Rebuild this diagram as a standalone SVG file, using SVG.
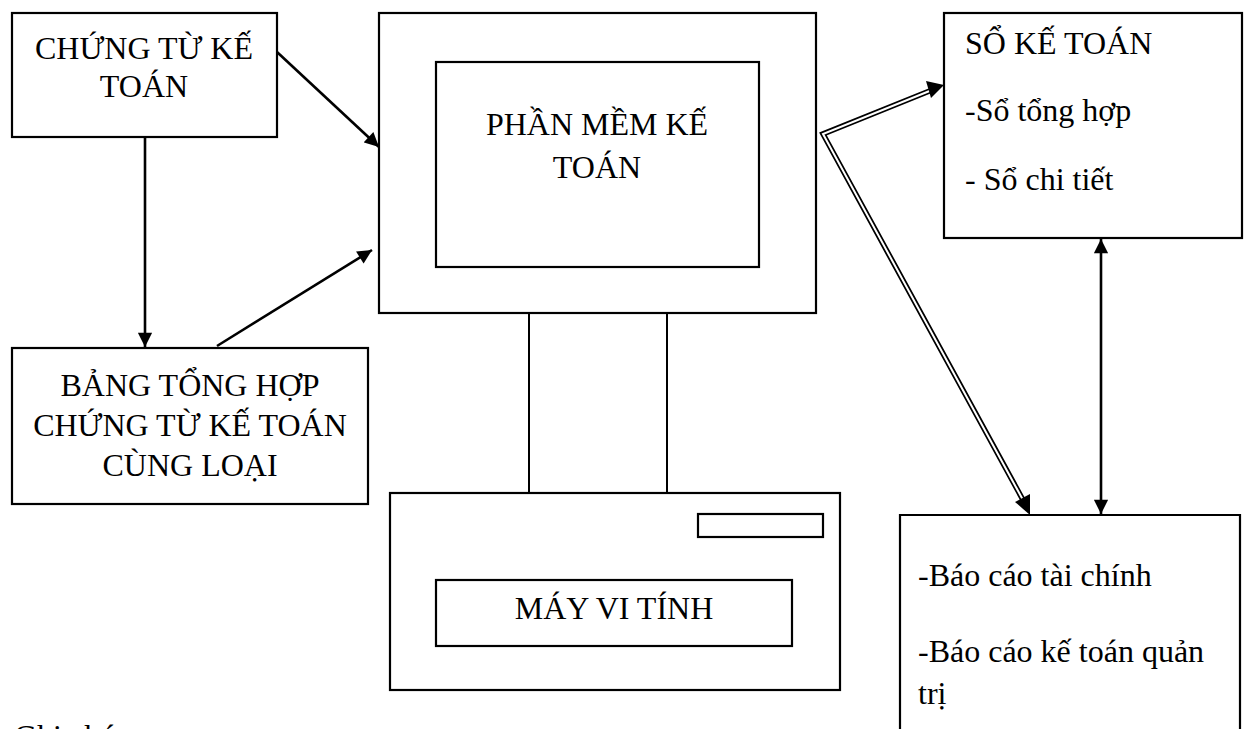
<svg xmlns="http://www.w3.org/2000/svg" width="1248" height="729" viewBox="0 0 1248 729">
  <style>
    .box { fill: #ffffff; stroke: #000000; stroke-width: 2.2; }
    .lbl { font-family: "Liberation Serif", "Times New Roman", serif; font-size: 32px; fill: #000000; }
    .mid { text-anchor: middle; }
    .wire { fill: none; stroke: #000000; stroke-width: 2.6; }
    .dbl-out { fill: none; stroke: #000000; stroke-width: 5.5; stroke-linejoin: miter; }
    .dbl-in { fill: none; stroke: #ffffff; stroke-width: 2; stroke-linejoin: miter; }
    .stand { fill: none; stroke: #000000; stroke-width: 2; }
  </style>
  <defs>
    <marker id="head" viewBox="0 0 10 10" refX="10" refY="5" markerWidth="6" markerHeight="5.5" markerUnits="strokeWidth" orient="auto-start-reverse">
      <path d="M0,0 L10,5 L0,10 Z" fill="#000000"/>
    </marker>
  </defs>

  <rect width="1248" height="729" fill="#ffffff"/>

  <!-- Source documents -->
  <g id="chung-tu">
    <rect class="box" x="12" y="13" width="265" height="124"/>
    <text class="lbl mid" x="144" y="59">CHỨNG TỪ KẾ</text>
    <text class="lbl mid" x="144" y="97">TOÁN</text>
  </g>

  <!-- Summary of documents -->
  <g id="bang-tong-hop">
    <rect class="box" x="12" y="348" width="356" height="156"/>
    <text class="lbl mid" x="190" y="396">BẢNG TỔNG HỢP</text>
    <text class="lbl mid" x="190" y="436">CHỨNG TỪ KẾ TOÁN</text>
    <text class="lbl mid" x="190" y="476">CÙNG LOẠI</text>
  </g>

  <!-- Monitor with accounting software -->
  <g id="phan-mem">
    <rect class="box" x="379" y="13" width="437" height="300"/>
    <rect class="box" x="436" y="62" width="323" height="205"/>
    <text class="lbl mid" x="597" y="135">PHẦN MỀM KẾ</text>
    <text class="lbl mid" x="597" y="178">TOÁN</text>
  </g>

  <!-- Computer base -->
  <g id="may-vi-tinh">
    <line class="stand" x1="529" y1="313" x2="529" y2="496"/>
    <line class="stand" x1="667" y1="313" x2="667" y2="496"/>
    <rect class="box" x="390" y="493" width="450" height="197"/>
    <rect class="box" x="698" y="514" width="125" height="23"/>
    <rect class="box" x="436" y="580" width="356" height="66"/>
    <text class="lbl mid" x="614" y="619">MÁY VI TÍNH</text>
  </g>

  <!-- Ledgers -->
  <g id="so-ke-toan">
    <rect class="box" x="944" y="13" width="298" height="225"/>
    <text class="lbl" x="965" y="54">SỔ KẾ TOÁN</text>
    <text class="lbl" x="965" y="121">-Sổ tổng hợp</text>
    <text class="lbl" x="965" y="190">- Sổ chi tiết</text>
  </g>

  <!-- Reports -->
  <g id="bao-cao">
    <path class="box" d="M900,740 L900,515 L1240,515 L1240,740"/>
    <text class="lbl" x="918" y="586">-Báo cáo tài chính</text>
    <text class="lbl" x="918" y="662">-Báo cáo kế toán quản</text>
    <text class="lbl" x="918" y="704">trị</text>
  </g>

  <!-- Footnote heading, clipped by the page edge -->
  <text id="ghi-chu" class="lbl" x="14" y="747">Ghi chú:</text>

  <!-- Connectors -->
  <g id="connectors">
    <line class="wire" x1="145" y1="137" x2="145" y2="347" marker-end="url(#head)"/>
    <line class="wire" x1="217" y1="346" x2="372" y2="250" marker-end="url(#head)"/>
    <line class="wire" x1="277" y1="52" x2="379" y2="147" marker-end="url(#head)"/>
    <line class="wire" x1="1101" y1="239" x2="1101" y2="514" marker-start="url(#head)" marker-end="url(#head)"/>
    <!-- double-stroke branch from the software to ledgers and reports -->
    <path class="dbl-out" d="M932,90 L823,134 L1023,500"/>
    <path class="dbl-in" d="M932,90 L823,134 L1023,500"/>
    <polygon points="944,85 926,81 931,98" fill="#000000"/>
    <polygon points="1030,515 1015,502 1030,494" fill="#000000"/>
  </g>
</svg>
